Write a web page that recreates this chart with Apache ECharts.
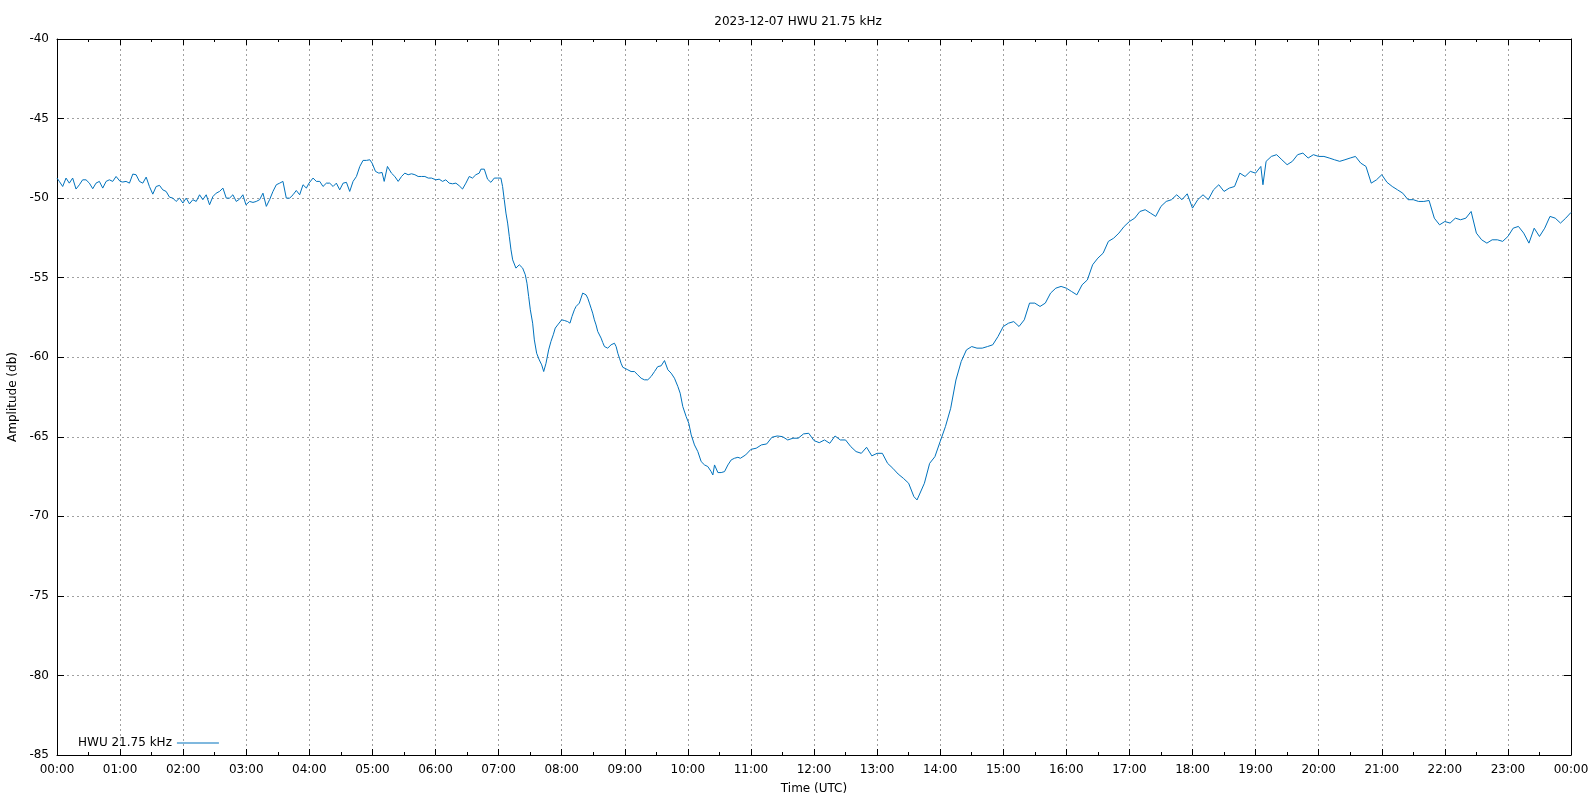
<!DOCTYPE html>
<html>
<head>
<meta charset="utf-8">
<script src="https://cdn.jsdelivr.net/npm/echarts@6/dist/echarts.min.js"></script>
<style>
html,body{margin:0;padding:0;background:#fff;}
#c{width:1596px;height:797px;}
</style>
</head>
<body>
<div id="c"></div>
<script>
const chartTitle = '2023-12-07 HWU 21.75 kHz';
const seriesName = 'HWU 21.75 kHz';
const xTitle = 'Time (UTC)';
const yTitle = 'Amplitude (db)';
// time of day in minutes (0 = 00:00, 1440 = next 00:00)
const times = [
0,2.2,5.4,8.6,11.7,14.9,18.1,21.3,24.4,27.6,30.8,34.0,37.1,40.3,43.5,46.7,49.8,53.0,56.2,60.0,
62.5,65.7,68.9,72.1,75.2,78.4,81.6,84.8,87.9,91.1,94.3,97.5,100.6,103.8,107.0,110.2,113.3,116.5,119.7,
122.9,126.0,129.2,132.4,135.6,138.7,141.9,145.1,148.3,151.4,154.6,157.8,161.0,164.1,167.3,170.5,173.7,176.8,179.7,
183.2,186.4,189.5,192.7,195.9,199.1,202.2,205.4,208.6,211.8,214.9,218.1,221.3,224.5,227.6,230.8,234.0,237.2,239.7,
243.5,246.7,249.9,253.0,256.2,259.4,262.6,265.7,268.9,272.1,275.3,278.4,281.6,284.8,288.0,291.1,294.3,297.5,299.7,
302.9,306.1,309.2,311.2,314.3,318.1,321.3,324.5,327.7,330.8,334.0,337.2,340.4,343.5,346.7,349.9,353.1,356.2,360.4,
363.5,366.7,369.8,373.0,376.2,379.4,382.5,385.7,388.9,392.1,395.2,398.4,401.6,403.2,406.4,409.5,412.7,415.9,419.1,
422.2,423.8,425.4,427.0,428.6,430.2,431.8,433.4,436.5,439.7,442.9,445.4,447.0,448.6,450.2,452.4,454.0,456.2,458.7,461.0,462.9,465.1,467.6,469.8,472.0,473.9,476.2,480.0,
482.5,485.7,487.9,489.8,492.1,493.7,496.8,498.4,500.0,501.6,503.2,504.8,506.4,508.0,509.5,511.1,512.7,514.3,515.9,517.5,519.1,520.7,523.8,527.0,530.2,531.8,533.4,535.0,536.5,538.1,540.0,
542.9,546.0,549.2,552.4,555.6,558.7,561.9,565.1,568.3,571.4,574.6,577.8,581.0,584.1,587.3,590.5,592.7,595.2,598.4,600.9,
603.2,606.3,609.5,612.7,615.9,619.0,622.2,623.8,625.4,628.6,631.7,634.9,638.1,641.3,644.4,647.6,
650,655,660,665,670,675,680,685,690,695,700,705,710,715,720,725,730,735,740,745,750,755,760,765,770,775,780,785,790,795,800,805,810,815,818,825,830,835,840,845,850,855,860,865,870,
875,880,885,890,895,900,905,910,915,920,925,930,935,940,945,950,955,960,965,970,975,980,985,990,995,1000,1005,1010,1015,1020,1025,1030,1035,1040,1045,1050,1055,1060,1065,1070,1075,1080,1085,1090,1095,1100,1105,1110,1115,1120,1125,1130,1135,1140,1145,1147,1150,
1155,1160,1165,1170,1175,1180,1185,1190,1195,1200,1205,1210,1215,1220,1225,1230,1235,1240,1245,1250,1255,1260,1265,1270,1275,1280,1285,1290,1295,1300,1305,1310,1315,1320,1325,1330,1335,1340,1345,1350,1355,1360,1365,1370,1375,1380,1385,1390,1395,1400,1405,1410,1415,1420,1425,1430,1435,1440
];
// received amplitude in dB
const amps = [
-48.74,-48.95,-49.27,-48.74,-49.06,-48.74,-49.43,-49.16,-48.85,-48.85,-49.06,-49.41,-49.06,-48.95,-49.37,-48.95,-48.85,-48.95,-48.64,-48.95,
-48.99,-48.95,-49.06,-48.49,-48.53,-48.95,-49.06,-48.68,-49.27,-49.75,-49.27,-49.20,-49.48,-49.58,-49.94,-50.00,-50.21,-50.00,-50.31,
-50.00,-50.36,-50.10,-50.21,-49.79,-50.10,-49.79,-50.42,-49.90,-49.69,-49.58,-49.37,-50.00,-50.00,-49.79,-50.21,-50.06,-49.79,-50.42,
-50.21,-50.27,-50.21,-50.10,-49.69,-50.52,-50.10,-49.58,-49.16,-49.06,-48.95,-50.00,-50.00,-49.79,-49.52,-49.79,-49.16,-49.37,-49.06,
-48.74,-48.95,-48.95,-49.27,-49.06,-49.06,-49.27,-49.06,-49.48,-49.06,-49.01,-49.58,-48.95,-48.64,-48.01,-47.63,-47.63,-47.59,-47.80,
-48.32,-48.43,-48.39,-48.95,-48.01,-48.43,-48.64,-48.95,-48.64,-48.43,-48.53,-48.47,-48.53,-48.64,-48.64,-48.64,-48.74,-48.74,-48.85,
-48.81,-48.95,-48.85,-49.06,-49.10,-49.06,-49.22,-49.43,-49.06,-48.64,-48.74,-48.53,-48.43,-48.18,-48.18,-48.81,-49.01,-48.74,-48.74,
-48.74,-49.27,-50.10,-50.94,-51.57,-52.41,-53.25,-53.88,-54.40,-54.19,-54.40,-54.82,-55.35,-56.18,-57.02,-57.86,-58.91,-59.75,-60.17,-60.48,-60.90,-60.38,-59.54,-59.01,-58.59,-58.17,-57.97,-57.65,
-57.69,-57.76,-57.86,-57.44,-57.02,-56.81,-56.60,-56.50,-55.97,-55.93,-56.08,-56.29,-56.60,-56.92,-57.23,-57.65,-57.97,-58.38,-58.49,-58.80,-59.08,-59.33,-59.43,-59.22,-59.12,-59.33,-59.75,-60.06,-60.38,-60.63,-60.69,
-60.79,-60.90,-60.90,-61.11,-61.32,-61.42,-61.42,-61.21,-60.90,-60.59,-60.54,-60.21,-60.79,-61.00,-61.32,-61.84,-62.26,-63.10,-63.73,-64.15,
-64.88,-65.51,-65.93,-66.56,-66.77,-66.87,-67.19,-67.40,-66.77,-67.25,-67.25,-67.19,-66.77,-66.45,-66.35,-66.29,
-66.35,-66.14,-65.79,-65.72,-65.51,-65.45,-65.03,-64.95,-64.99,-65.20,-65.09,-65.09,-64.82,-64.78,-65.24,-65.37,-65.20,-65.41,-64.95,-65.20,-65.20,-65.62,-65.93,-66.04,-65.66,-66.20,-66.04,-66.04,-66.67,-66.98,-67.34,-67.61,-67.92,-68.76,-68.97,-67.92,-66.67,-66.25,-65.30,-64.36,-63.21,-61.43,-60.27,-59.54,-59.33,
-59.43,-59.43,-59.33,-59.22,-58.70,-58.07,-57.86,-57.76,-58.07,-57.65,-56.60,-56.60,-56.81,-56.60,-55.97,-55.66,-55.55,-55.66,-55.87,-56.08,-55.45,-55.14,-54.19,-53.77,-53.46,-52.72,-52.52,-52.20,-51.78,-51.47,-51.26,-50.84,-50.73,-50.94,-51.15,-50.52,-50.21,-50.10,-49.79,-50.10,-49.73,-50.63,-50.10,-49.79,-50.10,-49.48,-49.16,-49.58,-49.37,-49.27,-48.43,-48.64,-48.32,-48.43,-48.01,-49.16,-47.69,
-47.38,-47.27,-47.59,-47.90,-47.69,-47.27,-47.17,-47.48,-47.27,-47.38,-47.38,-47.48,-47.59,-47.69,-47.59,-47.48,-47.38,-47.80,-48.01,-49.06,-48.85,-48.53,-49.01,-49.27,-49.48,-49.69,-50.10,-50.10,-50.21,-50.21,-50.15,-51.26,-51.68,-51.47,-51.57,-51.26,-51.36,-51.26,-50.84,-52.20,-52.62,-52.83,-52.62,-52.62,-52.72,-52.41,-51.89,-51.78,-52.20,-52.83,-51.89,-52.41,-51.89,-51.15,-51.26,-51.57,-51.26,-50.90
];
const yTicks = {min: -85, max: -40, step: 5};
const xTicks = {min: 0, max: 1440, step: 60};

const FONT = 'DejaVu Sans';
const pad = n => (n < 10 ? '0' : '') + n;
const hhmm = v => pad(Math.round(v / 60) % 24) + ':00';
const gridLine = {show: true, lineStyle: {color: '#a0a0a0', type: [2, 3], width: 1}};
const axisLineBlack = {show: true, onZero: false, lineStyle: {color: '#000', width: 1}};

const chart = echarts.init(document.getElementById('c'), null, {renderer: 'canvas'});
chart.setOption({
  animation: false,
  backgroundColor: '#fff',
  textStyle: {fontFamily: FONT},
  title: {
    text: chartTitle, left: 'center', top: 16, padding: 0,
    textStyle: {fontFamily: FONT, fontSize: 12, fontWeight: 'normal', color: '#000'}
  },
  legend: {
    left: 78, top: 737, align: 'right', itemWidth: 42, itemHeight: 1, padding: 0,
    data: [{name: seriesName, icon: 'rect'}],
    textStyle: {fontFamily: FONT, fontSize: 12, color: '#000'}
  },
  grid: {left: 57, right: 25, top: 39, bottom: 42, containLabel: false, outerBoundsMode: 'none'},
  xAxis: [{
    type: 'value', min: xTicks.min, max: xTicks.max, interval: xTicks.step,
    name: xTitle, nameLocation: 'middle', nameGap: 28,
    nameTextStyle: {fontFamily: FONT, fontSize: 12, color: '#000'},
    axisLine: axisLineBlack,
    axisTick: {show: true, inside: true, length: 6, lineStyle: {color: '#000'}},
    minorTick: {show: true, splitNumber: 2, length: 3, lineStyle: {color: '#000'}},
    axisLabel: {formatter: hhmm, fontFamily: FONT, fontSize: 12, color: '#000', margin: 9},
    splitLine: gridLine
  }, {
    type: 'value', position: 'top', min: xTicks.min, max: xTicks.max, interval: xTicks.step,
    axisLine: axisLineBlack,
    axisTick: {show: true, inside: true, length: 6, lineStyle: {color: '#000'}},
    minorTick: {show: true, splitNumber: 2, length: 3, lineStyle: {color: '#000'}},
    axisLabel: {show: false}, splitLine: {show: false}
  }],
  yAxis: [{
    type: 'value', min: yTicks.min, max: yTicks.max, interval: yTicks.step,
    name: yTitle, nameLocation: 'middle', nameGap: 38, nameRotate: 90,
    nameTextStyle: {fontFamily: FONT, fontSize: 12, color: '#000'},
    axisLine: axisLineBlack,
    axisTick: {show: true, inside: true, length: 7, lineStyle: {color: '#000'}},
    axisLabel: {fontFamily: FONT, fontSize: 12, color: '#000', margin: 8},
    splitLine: gridLine
  }, {
    type: 'value', position: 'right', min: yTicks.min, max: yTicks.max, interval: yTicks.step,
    axisLine: axisLineBlack,
    axisTick: {show: true, inside: true, length: 7, lineStyle: {color: '#000'}},
    axisLabel: {show: false}, splitLine: {show: false}
  }],
  series: [{
    name: seriesName, type: 'line', symbol: 'none', xAxisIndex: 0, yAxisIndex: 0,
    data: times.map((t, i) => [t, amps[i]]),
    lineStyle: {color: '#0072bd', width: 1},
    itemStyle: {color: '#0072bd'}
  }]
});
</script>
</body>
</html>
